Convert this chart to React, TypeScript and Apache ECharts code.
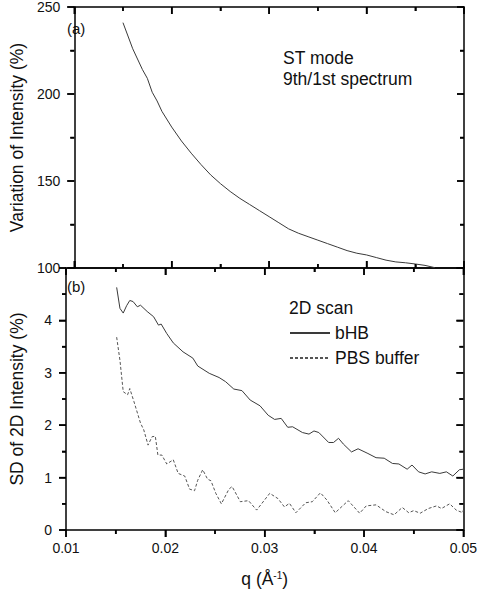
import React, { useEffect, useRef } from "react";
import * as echarts from "echarts";

// Panel (a): ST mode, 9th/1st spectrum
const qTop = [0.015, 0.016, 0.017, 0.0175, 0.018, 0.0185, 0.019, 0.020, 0.021, 0.022, 0.023, 0.024, 0.025, 0.026, 0.027, 0.028, 0.029, 0.030, 0.031, 0.032, 0.033, 0.034, 0.035, 0.036, 0.037, 0.038, 0.039, 0.040, 0.041, 0.042, 0.043, 0.044, 0.045, 0.046, 0.047];
const vTop = [241, 226, 214, 209, 201, 196, 190, 181, 173, 166, 159.5, 153.5, 148.5, 144, 140, 136.5, 133, 129.5, 126, 122.5, 120, 118, 116, 114, 112, 110, 108.5, 107.5, 106, 104.5, 103.5, 103, 102.3, 101.5, 100.2];

// Panel (b): bHB (solid)
const qHB = [0.0151, 0.01543, 0.01576, 0.0161, 0.01642, 0.01675, 0.01718, 0.0175, 0.01817, 0.01882, 0.01931, 0.01958, 0.02014, 0.0208, 0.02178, 0.02277, 0.02326, 0.02442, 0.02541, 0.02607, 0.02689, 0.02771, 0.02854, 0.02953, 0.03035, 0.031, 0.03166, 0.03232, 0.03281, 0.0338, 0.03446, 0.03496, 0.03545, 0.03644, 0.03693, 0.03743, 0.03792, 0.03874, 0.0394, 0.04039, 0.04121, 0.04203, 0.04286, 0.04351, 0.04434, 0.04483, 0.04549, 0.04615, 0.04681, 0.04763, 0.04829, 0.04894, 0.0496, 0.05];
const vHB = [4.63, 4.23, 4.14, 4.28, 4.38, 4.36, 4.26, 4.29, 4.17, 4.07, 3.91, 3.93, 3.75, 3.57, 3.40, 3.28, 3.13, 2.99, 2.91, 2.83, 2.69, 2.66, 2.48, 2.37, 2.19, 2.11, 2.13, 1.96, 1.97, 1.86, 1.83, 1.89, 1.86, 1.67, 1.67, 1.75, 1.64, 1.49, 1.55, 1.46, 1.38, 1.37, 1.27, 1.26, 1.16, 1.24, 1.11, 1.07, 1.11, 1.08, 1.11, 1.03, 1.15, 1.16];

// Panel (b): PBS buffer (dashed)
const qPBS = [0.0151, 0.01543, 0.01576, 0.0162, 0.01642, 0.01684, 0.0175, 0.01783, 0.01826, 0.01866, 0.01899, 0.01925, 0.01965, 0.02014, 0.0208, 0.02129, 0.02195, 0.02244, 0.02294, 0.02326, 0.02376, 0.02425, 0.02459, 0.02508, 0.02564, 0.0264, 0.02672, 0.02755, 0.02837, 0.02919, 0.03051, 0.03133, 0.03199, 0.03249, 0.03314, 0.03413, 0.03479, 0.03561, 0.03627, 0.0371, 0.03841, 0.03956, 0.04022, 0.04121, 0.0422, 0.04302, 0.04385, 0.0445, 0.045, 0.04565, 0.04647, 0.0473, 0.0478, 0.04862, 0.04928, 0.04993, 0.05];
const vPBS = [3.68, 3.24, 2.64, 2.58, 2.70, 2.45, 2.04, 1.91, 1.62, 1.78, 1.79, 1.43, 1.43, 1.26, 1.34, 1.08, 1.03, 0.78, 0.75, 0.95, 1.15, 0.97, 0.94, 0.70, 0.50, 0.78, 0.83, 0.54, 0.56, 0.38, 0.70, 0.60, 0.44, 0.51, 0.33, 0.52, 0.54, 0.71, 0.57, 0.33, 0.56, 0.32, 0.46, 0.48, 0.35, 0.29, 0.43, 0.33, 0.37, 0.32, 0.41, 0.46, 0.41, 0.50, 0.38, 0.33, 0.38];

const xTicks = [0.01, 0.02, 0.03, 0.04, 0.05];
const topYTicks = [100, 150, 200, 250];
const botYTicks = [0, 1, 2, 3, 4, 5];

const zip = (a: number[], b: number[]) => a.map((x, i) => [x, b[i]]);
const mids = (a: number[]) => a.slice(1).map((v, i) => (v + a[i]) / 2);

const FONT = "'Liberation Sans', Arial, sans-serif";
const INK = "#111";
const TICK_INK = "#000";
const MAJOR = 7;
const MINOR = 4;

// Tick marks for one panel: [x, y, dx(px), dy(px)], anchored on the frame via the axis scales.
const buildTicks = (yT: number[], bottomOutward: boolean) => {
  const xMin = xTicks[0];
  const xMax = xTicks[xTicks.length - 1];
  const yMin = yT[0];
  const yMax = yT[yT.length - 1];
  const out: number[][] = [];
  const xSets: [number[], number][] = [[xTicks, MAJOR], [mids(xTicks), MINOR]];
  const ySets: [number[], number][] = [[yT, MAJOR], [mids(yT), MINOR]];
  xSets.forEach(([vals, len]) => {
    vals.forEach((q) => {
      out.push([q, yMin, 0, bottomOutward ? len : -len]);
      out.push([q, yMax, 0, len]);
    });
  });
  ySets.forEach(([vals, len]) => {
    vals.forEach((v) => {
      out.push([xMin, v, -len, 0]);
      out.push([xMax, v, -len, 0]);
    });
  });
  return out;
};

const tickRender = (_params: any, api: any) => {
  const p = api.coord([api.value(0), api.value(1)]);
  const dx = Number(api.value(2)) || 0;
  const dy = Number(api.value(3)) || 0;
  return {
    type: "polyline",
    shape: { points: [[p[0], p[1]], [p[0] + dx, p[1] + dy]] },
    style: { stroke: TICK_INK, lineWidth: 1.5, fill: "none" },
  };
};

export default function App() {
  const ref = useRef<HTMLDivElement>(null);
  useEffect(() => {
    if (!ref.current) return;
    const chart = echarts.init(ref.current, undefined, { renderer: "svg" });
    const mkAxisLine = () => ({ show: true, onZero: false, lineStyle: { color: "#000", width: 1.5 } });
    const mkTick = (inside: boolean) => ({ show: true, inside, length: MAJOR, lineStyle: { color: TICK_INK, width: 1.5 } });
    const mkMinor = () => ({ show: true, splitNumber: 2, length: MINOR, lineStyle: { color: TICK_INK, width: 1.5 } });
    const xBase = (grid: number, pos: "top" | "bottom", labels: boolean, inside: boolean) => ({
      type: "value" as const,
      gridIndex: grid,
      position: pos,
      min: xTicks[0],
      max: xTicks[xTicks.length - 1],
      interval: 0.01,
      axisLine: mkAxisLine(),
      axisTick: mkTick(inside),
      minorTick: mkMinor(),
      splitLine: { show: false },
      axisLabel: labels
        ? { show: true, fontSize: 14, color: INK, fontFamily: FONT, margin: 11, formatter: (v: number) => v.toFixed(2) }
        : { show: false },
    });
    const yBase = (grid: number, pos: "left" | "right", ticks: number[], labels: boolean, hideMax: boolean) => ({
      type: "value" as const,
      gridIndex: grid,
      position: pos,
      min: ticks[0],
      max: ticks[ticks.length - 1],
      interval: ticks[1] - ticks[0],
      axisLine: mkAxisLine(),
      axisTick: mkTick(pos === "right"),
      minorTick: mkMinor(),
      splitLine: { show: false },
      axisLabel: labels
        ? {
            show: true,
            fontSize: 14,
            color: INK,
            fontFamily: FONT,
            margin: 14,
            formatter: (v: number) => (hideMax && v === ticks[ticks.length - 1] ? "" : String(v)),
          }
        : { show: false },
    });

    const option: any = {
      animation: false,
      backgroundColor: "#fff",
      textStyle: { fontFamily: FONT },
      grid: [
        { left: 59, right: 16, top: 6, height: 262 },
        { left: 59, right: 16, top: 268, height: 262 },
      ],
      xAxis: [
        xBase(0, "bottom", false, true),
        xBase(0, "top", false, true),
        {
          ...xBase(1, "bottom", true, false),
          name: "q (Å{sup|-1})",
          nameLocation: "middle",
          nameGap: 40,
          nameTextStyle: {
            fontSize: 17.5,
            color: INK,
            fontFamily: FONT,
            verticalAlign: "top",
            rich: { sup: { fontSize: 10, color: INK, fontFamily: FONT, verticalAlign: "top", padding: [0, 0, 6, 0] } },
          },
        },
        xBase(1, "top", false, true),
      ],
      yAxis: [
        {
          ...yBase(0, "left", topYTicks, true, false),
          name: "Variation of Intensity (%)",
          nameLocation: "middle",
          nameGap: 40,
          nameTextStyle: { fontSize: 17.5, color: INK, fontFamily: FONT },
        },
        yBase(0, "right", topYTicks, false, false),
        {
          ...yBase(1, "left", botYTicks, true, true),
          name: "SD of 2D Intensity (%)",
          nameLocation: "middle",
          nameGap: 40,
          nameTextStyle: { fontSize: 17.5, color: INK, fontFamily: FONT },
        },
        yBase(1, "right", botYTicks, false, false),
      ],
      legend: {
        orient: "vertical",
        left: 289,
        top: 324,
        padding: 0,
        itemWidth: 40,
        itemHeight: 14,
        itemGap: 7,
        itemStyle: { opacity: 0 },
        textStyle: { fontSize: 17.5, color: INK, fontFamily: FONT },
        data: ["bHB", "PBS buffer"],
      },
      graphic: [
        { type: "text", left: 67, top: 21, style: { text: "(a)", fontSize: 15, fill: INK, fontFamily: FONT } },
        { type: "text", left: 67, top: 279, style: { text: "(b)", fontSize: 15, fill: INK, fontFamily: FONT } },
        { type: "text", left: 283, top: 49, style: { text: "ST mode", fontSize: 17.5, fill: INK, fontFamily: FONT } },
        { type: "text", left: 283, top: 70, style: { text: "9th/1st spectrum", fontSize: 17.5, fill: INK, fontFamily: FONT } },
        { type: "text", left: 289, top: 299, style: { text: "2D scan", fontSize: 17.5, fill: INK, fontFamily: FONT } },
      ],
      series: [
        {
          name: "9th/1st spectrum",
          type: "line",
          xAxisIndex: 0,
          yAxisIndex: 0,
          data: zip(qTop, vTop),
          showSymbol: false,
          symbol: "none",
          lineStyle: { color: "#3a3a3a", width: 1 },
          itemStyle: { color: "#3a3a3a" },
        },
        {
          name: "bHB",
          type: "line",
          xAxisIndex: 2,
          yAxisIndex: 2,
          data: zip(qHB, vHB),
          showSymbol: false,
          symbol: "none",
          lineStyle: { color: "#3a3a3a", width: 1 },
          itemStyle: { color: "#3a3a3a" },
        },
        {
          name: "PBS buffer",
          type: "line",
          xAxisIndex: 2,
          yAxisIndex: 2,
          data: zip(qPBS, vPBS),
          showSymbol: false,
          symbol: "none",
          lineStyle: { color: "#555", width: 1, type: [3, 2] },
          itemStyle: { color: "#555" },
        },
        {
          name: "frame ticks (a)",
          type: "custom",
          xAxisIndex: 0,
          yAxisIndex: 0,
          clip: false,
          silent: true,
          z: 5,
          dimensions: ["x", "y", "dx", "dy"],
          encode: { x: 0, y: 1 },
          renderItem: tickRender,
          data: buildTicks(topYTicks, false),
        },
        {
          name: "frame ticks (b)",
          type: "custom",
          xAxisIndex: 2,
          yAxisIndex: 2,
          clip: false,
          silent: true,
          z: 5,
          dimensions: ["x", "y", "dx", "dy"],
          encode: { x: 0, y: 1 },
          renderItem: tickRender,
          data: buildTicks(botYTicks, true),
        },
      ],
    };
    chart.setOption(option);
    return () => chart.dispose();
  }, []);
  return (
    <div
      ref={ref}
      style={{ position: "fixed", left: 0, top: 0, width: 480, height: 590, background: "#fff" }}
    />
  );
}
